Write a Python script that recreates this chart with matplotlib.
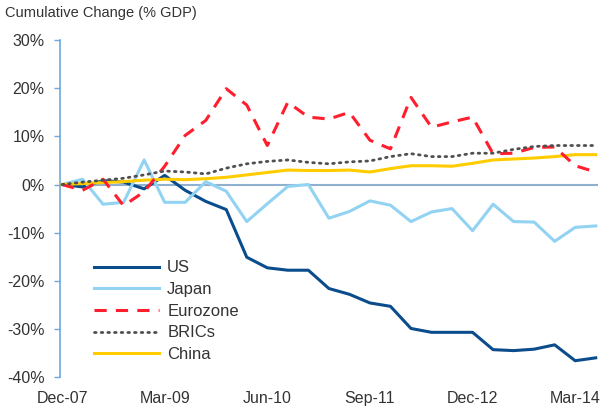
import matplotlib
matplotlib.use("Agg")
import matplotlib.pyplot as plt
from matplotlib import font_manager

# Quarterly points, Dec-07 .. Jun-14
quarters = ["Dec-07", "Mar-08", "Jun-08", "Sep-08", "Dec-08", "Mar-09", "Jun-09", "Sep-09", "Dec-09",
            "Mar-10", "Jun-10", "Sep-10", "Dec-10", "Mar-11", "Jun-11", "Sep-11", "Dec-11", "Mar-12",
            "Jun-12", "Sep-12", "Dec-12", "Mar-13", "Jun-13", "Sep-13", "Dec-13", "Mar-14", "Jun-14"]
tick_labels = ["Dec-07", "Mar-09", "Jun-10", "Sep-11", "Dec-12", "Mar-14"]

us = [0, -0.5, 0.8, 0.5, -0.9, 1.9, -1.2, -3.5, -5.2, -15.1, -17.3, -17.8, -17.8, -21.6, -22.8, -24.6,
      -25.3, -29.9, -30.7, -30.7, -30.7, -34.3, -34.5, -34.2, -33.3, -36.6, -36.0]
japan = [0, 1.1, -4.1, -3.7, 5.1, -3.7, -3.7, 0.6, -1.4, -7.7, -4.0, -0.4, 0.0, -7.0, -5.6, -3.4,
         -4.3, -7.7, -5.7, -5.0, -9.6, -4.1, -7.7, -7.8, -11.8, -8.9, -8.6]
eurozone = [0, -1.2, 1.1, -4.4, -1.5, 3.8, 10.2, 13.3, 19.9, 16.5, 8.1, 17.1, 14.0, 13.6, 15.0, 9.2,
            7.4, 18.1, 11.9, 13.0, 14.0, 6.4, 6.5, 7.7, 7.8, 3.9, 2.6]
brics = [0, 0.5, 0.9, 1.3, 2.0, 2.8, 2.6, 2.2, 3.4, 4.3, 4.8, 5.1, 4.6, 4.3, 4.7, 4.9,
         5.8, 6.4, 5.8, 5.8, 6.5, 6.5, 7.3, 7.9, 8.1, 8.1, 8.1]
china = [0, 0.2, 0.4, 0.6, 0.9, 1.1, 1.0, 1.2, 1.5, 2.0, 2.5, 3.0, 2.9, 2.9, 3.0, 2.6,
         3.3, 3.9, 3.9, 3.8, 4.4, 5.1, 5.3, 5.5, 5.8, 6.2, 6.2]

names = [f.name for f in font_manager.fontManager.ttflist]
font = "Liberation Sans Narrow" if "Liberation Sans Narrow" in names else "Liberation Sans"
plt.rcParams["font.family"] = [font, "DejaVu Sans"]

x = list(range(len(quarters)))

fig = plt.figure(figsize=(6.07, 4.09), dpi=100)
ax = fig.add_axes([0.0988, 0.078, 0.886, 0.824])

ax.axhline(0, color="#8fb0cf", lw=1.5, zorder=1)

ax.plot(x, us, color="#0b4c8c", lw=2.2, label="US", zorder=3)
ax.plot(x, japan, color="#92d2f2", lw=2.2, label="Japan", zorder=3)
ax.plot(x, eurozone, color="#ff1e2d", lw=2.2, ls=(0, (4, 3)), label="Eurozone", zorder=4)
ax.plot(x, brics, color="#505050", lw=2.0, ls=(0, (0.6, 1.8)), dash_capstyle="round", label="BRICs", zorder=4)
ax.plot(x, china, color="#ffcc00", lw=2.2, label="China", zorder=3)

ax.set_xlim(-0.1, 26.1)
ax.set_ylim(-40, 30)
ax.set_yticks(range(-40, 31, 10))
ax.set_yticklabels([f"{v}%" for v in range(-40, 31, 10)], fontsize=11.5, color="#333333")
ax.set_xticks([quarters.index(t) for t in tick_labels])
ax.set_xticklabels(tick_labels, fontsize=11.5, color="#333333")
ax.tick_params(axis="x", length=0, pad=10)
ax.tick_params(axis="y", length=4, width=1, color="#6fa8dc", pad=7)

for s in ["top", "right", "bottom"]:
    ax.spines[s].set_visible(False)
ax.spines["left"].set_color("#6fa8dc")
ax.spines["left"].set_linewidth(1.2)

ax.legend(loc="lower left", bbox_to_anchor=(0.035, 0.0), frameon=False, fontsize=12,
          handlelength=3.9, handletextpad=0.5, labelspacing=0.4, labelcolor="#333333")

fig.text(0.008, 0.968, "Cumulative Change (% GDP)", fontsize=10.5, color="#333333", va="center")

fig.savefig("out.png", dpi=100)
